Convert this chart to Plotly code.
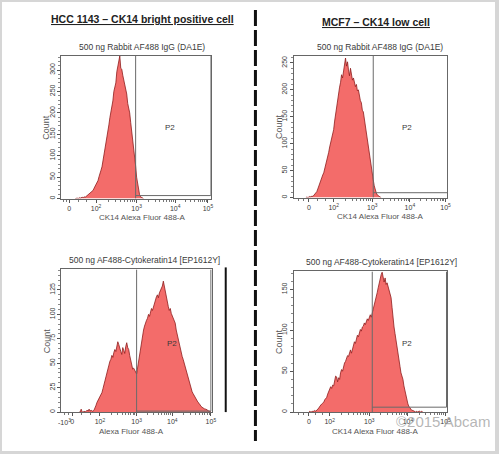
import math
import plotly.graph_objects as go

W, H = 502, 454

# ---------------- data ----------------
# display channel (biexponential display position) of first bin, then counts per channel
p1_start = 14
p1_counts = [0, 1, 1, 0, 2, 1, 2, 3, 2, 4, 3, 5, 6, 8, 9, 12, 13, 17, 19, 24, 28, 31, 38, 42, 51, 57,
             66, 74, 88, 96, 108, 131, 146, 155, 172, 189, 200, 210, 228, 250, 262, 270, 296, 312, 322,
             333, 304, 302, 288, 276, 266, 260, 244, 222, 212, 200, 178, 160, 142, 120, 98, 76, 50, 32,
             18, 9, 4, 2, 1, 0]

p2_start = 12
p2_counts = [0, 1, 0, 1, 2, 1, 3, 2, 4, 6, 8, 11, 16, 22, 28, 31, 38, 42, 46, 53, 58, 65, 76, 84, 94,
             103, 112, 118, 126, 142, 156, 169, 182, 196, 205, 214, 228, 222, 237, 248, 259, 244, 252,
             237, 226, 240, 231, 218, 222, 213, 206, 210, 198, 200, 188, 180, 176, 162, 159, 146, 134,
             120, 106, 92, 76, 64, 52, 41, 33, 22, 14, 9, 5, 3, 2, 1, 0]

p3_start = 18
p3_counts = [0, 0, 3, 0, 0, 1, 0, 1, 2, 1, 3, 1, 2, 1, 1, 2, 4, 7, 10, 12, 14, 16, 17, 20, 24, 27, 32,
             36, 41, 44, 48, 52, 54, 58, 56, 61, 64, 62, 67, 72, 69, 64, 62, 59, 66, 63, 60, 67, 71, 66,
             64, 58, 52, 47, 44, 45, 42, 41, 39, 46, 52, 58, 64, 72, 78, 84, 88, 92, 94, 96, 100, 98, 102,
             106, 104, 108, 112, 115, 118, 120, 117, 122, 124, 127, 129, 134, 128, 122, 118, 112, 108,
             104, 106, 101, 98, 95, 93, 91, 84, 79, 74, 70, 66, 61, 57, 54, 50, 47, 43, 38, 34, 30, 26,
             23, 21, 19, 17, 16, 14, 12, 10, 9, 7, 6, 5, 4, 4, 3, 3, 2, 2, 1, 1, 0]

p4_start = 15
p4_counts = [0, 1, 0, 1, 1, 1, 2, 1, 2, 4, 5, 7, 9, 10, 11, 12, 15, 17, 18, 22, 26, 28, 31, 29, 33, 32,
             38, 44, 43, 37, 42, 40, 48, 52, 50, 56, 60, 62, 65, 69, 68, 73, 76, 72, 78, 80, 86, 84, 89,
             94, 92, 98, 101, 99, 104, 105, 109, 107, 110, 114, 112, 117, 119, 116, 121, 123, 128, 133,
             138, 146, 152, 159, 165, 168, 171, 162, 159, 164, 156, 158, 154, 150, 146, 140, 128, 113,
             104, 96, 89, 80, 72, 65, 56, 48, 44, 40, 32, 26, 20, 14, 10, 7, 5, 3, 2, 2, 1, 1, 0, 1, 0,
             1, 1, 0, 1, 0]

# x tick positions (display channel) and labels
p1_xtick_vals = [8, 35, 76, 115, 148]
p1_xtick_text = ["0", "10<sup>2</sup>", "10<sup>3</sup>", "10<sup>4</sup>", "10<sup>5</sup>"]
p1_xmin_label, p1_xmin_pos = "-25", -9

p2_xtick_vals = [15, 40, 79, 117, 153]
p2_xtick_text = ["0", "10<sup>2</sup>", "10<sup>3</sup>", "10<sup>4</sup>", "10<sup>5</sup>"]
p2_xmin_label, p2_xmin_pos = "-93", -2

p3_xtick_vals = [11, 39, 76, 112, 151]
p3_xtick_text = ["0", "10<sup>2</sup>", "10<sup>3</sup>", "10<sup>4</sup>", "10<sup>5</sup>"]
p3_xmin_label, p3_xmin_pos = "-10<sup>3</sup>", 3

p4_xtick_vals = [15, 36, 76, 115, 153]
p4_xtick_text = ["0", "10<sup>2</sup>", "10<sup>3</sup>", "10<sup>4</sup>", "10<sup>5</sup>"]
p4_xmin_label, p4_xmin_pos = "-52", -7

# y axis maxima and tick steps
p1_ymax, p1_ystep = 333, 50
p2_ymax, p2_ystep = 263, 50
p3_ymax, p3_ystep = 146, 25
p4_ymax, p4_ystep = 172, 50

# P2 gates: [low channel, high channel, bottom count]
p1_gate = [75, 151, 7]
p2_gate = [80, 155, 9]
p3_gate = [76, 151, 1]
p4_gate = [79, 154, 6]

# P2 label positions (channel, count)
p1_p2lab = [110, 165]
p2_p2lab = [114, 130]
p3_p2lab = [112, 70]
p4_p2lab = [114, 84]

titles = ["HCC 1143 \u2013 CK14 bright positive cell", "MCF7 \u2013 CK14 low cell"]
subtitles = ["500 ng Rabbit AF488 IgG (DA1E)", "500 ng Rabbit AF488 IgG (DA1E)",
             "500 ng AF488-Cytokeratin14 [EP1612Y]", "500 ng AF488-Cytokeratin14 [EP1612Y]"]
xtitles = ["CK14 Alexa Fluor 488-A", "CK14 Alexa Fluor 488-A",
           "Alexa Fluor 488-A", "CK14 Alexa Fluor 488-A"]

# ---------------- layout geometry (pixels) ----------------
# l/r/t/b: plot box; sx: subtitle centre; tx: x-title centre
boxes = [
    dict(l=62, r=213, t=56, b=199, sx=143, tx=143),
    dict(l=297, r=452, t=56, b=198, sx=384, tx=384),
    dict(l=62, r=214, t=270, b=413, sx=146, tx=133),
    dict(l=297, r=452, t=272, b=413, sx=385, tx=379),
]

panels = [
    (p1_start, p1_counts, p1_xtick_vals, p1_xtick_text, p1_xmin_label, p1_xmin_pos, p1_ymax, p1_ystep, p1_gate, p1_p2lab),
    (p2_start, p2_counts, p2_xtick_vals, p2_xtick_text, p2_xmin_label, p2_xmin_pos, p2_ymax, p2_ystep, p2_gate, p2_p2lab),
    (p3_start, p3_counts, p3_xtick_vals, p3_xtick_text, p3_xmin_label, p3_xmin_pos, p3_ymax, p3_ystep, p3_gate, p3_p2lab),
    (p4_start, p4_counts, p4_xtick_vals, p4_xtick_text, p4_xmin_label, p4_xmin_pos, p4_ymax, p4_ystep, p4_gate, p4_p2lab),
]

FONT = "Liberation Sans Narrow, Arial, sans-serif"
TXT = "#3a3a3a"


def ann(**kw):
    d = dict(showarrow=False, xanchor="center", yanchor="middle")
    d.update(kw)
    return d


fig = go.Figure()
shapes = []
annotations = []

for i, (start, counts, xtv, xtt, xml, xmp, ymax, ystep, gate, lab) in enumerate(panels):
    bx = boxes[i]
    sfx = "" if i == 0 else str(i + 1)
    xa, ya = "x" + sfx, "y" + sfx
    width = bx["r"] - bx["l"]
    xs = [start + k for k in range(len(counts))]
    fig.add_trace(go.Scatter(
        x=xs, y=counts, mode="lines", xaxis=xa, yaxis=ya,
        line=dict(color="#8e1d1d", width=0.8), fill="tozeroy",
        fillcolor="rgba(242,100,98,0.95)", showlegend=False, hoverinfo="skip"))

    # minor ticks: log spacing between decades, even spacing near zero
    minor = []
    dec = xtv[1:]
    for a, b in zip(dec[:-1], dec[1:]):
        for m in range(2, 10):
            minor.append(a + (b - a) * math.log10(m))
    z0, d2 = xtv[0], xtv[1]
    for f in (0.33, 0.66):
        minor.append(z0 + (d2 - z0) * f)
    for f in (0.33, 0.66):
        minor.append(z0 * f)

    fig.update_layout(**{
        "xaxis" + sfx: dict(
            domain=[bx["l"] / W, bx["r"] / W], range=[0, width], anchor=ya,
            tickmode="array", tickvals=xtv, ticktext=xtt, ticks="outside", ticklen=3,
            tickwidth=1, tickcolor="#555", showgrid=False, zeroline=False,
            showline=True, mirror=True, linecolor="#666", linewidth=1,
            tickfont=dict(family=FONT, size=7, color=TXT),
            minor=dict(tickmode="array", tickvals=minor, ticks="outside", ticklen=2,
                       tickcolor="#777", showgrid=False),
        ),
        "yaxis" + sfx: dict(
            domain=[1 - bx["b"] / H, 1 - bx["t"] / H], range=[0, ymax], anchor=xa,
            tickmode="linear", tick0=0, dtick=ystep, ticks="outside", ticklen=3,
            tickwidth=1, tickcolor="#555", showgrid=False, zeroline=False,
            showline=True, mirror=True, linecolor="#666", linewidth=1, tickangle=-90,
            tickfont=dict(family=FONT, size=7, color=TXT),
            minor=dict(dtick=ystep / 5, ticks="outside", ticklen=2, tickcolor="#888"),
        ),
    })

    # gate P2
    lo, hi, gb = gate
    shapes += [
        dict(type="line", xref=xa, yref=ya, x0=lo, x1=lo, y0=0, y1=ymax, line=dict(color="#6a6a6a", width=1)),
        dict(type="line", xref=xa, yref=ya, x0=lo, x1=hi, y0=gb, y1=gb, line=dict(color="#6a6a6a", width=1)),
        dict(type="line", xref=xa, yref=ya, x0=hi, x1=hi, y0=gb, y1=ymax, line=dict(color="#6a6a6a", width=1)),
    ]
    annotations.append(ann(xref=xa, yref=ya, x=lab[0], y=lab[1], text="P2",
                           font=dict(family=FONT, size=8, color=TXT)))
    # left-most tick label (sits left of axis start)
    annotations.append(ann(xref=xa, yref=ya, x=xmp, y=0, text=xml, yanchor="top", yshift=-4,
                           font=dict(family=FONT, size=7, color=TXT)))
    # subtitle
    annotations.append(ann(xref="paper", yref="paper", x=bx["sx"] / W, y=1 - (bx["t"] - 9) / H,
                           text=subtitles[i], font=dict(family=FONT, size=8.5, color=TXT)))
    # x title
    annotations.append(ann(xref="paper", yref="paper", x=bx["tx"] / W, y=1 - (bx["b"] + 19) / H,
                           text=xtitles[i], font=dict(family=FONT, size=8, color="#555")))
    # y title
    annotations.append(ann(xref="paper", yref="paper", x=(bx["l"] - 15) / W,
                           y=1 - ((bx["t"] + bx["b"]) / 2) / H, text="Count", textangle=-90,
                           font=dict(family=FONT, size=9, color="#555")))

# column titles
annotations.append(ann(xref="paper", yref="paper", x=144 / W, y=1 - 19 / H,
                       text="<b><u>" + titles[0] + "</u></b>",
                       font=dict(family=FONT, size=10.5, color="#222")))
annotations.append(ann(xref="paper", yref="paper", x=380 / W, y=1 - 22 / H,
                       text="<b><u>" + titles[1] + "</u></b>",
                       font=dict(family=FONT, size=10.5, color="#222")))
# watermark
annotations.append(ann(xref="paper", yref="paper", x=497 / W, y=1 - 422 / H, xanchor="right",
                       text="\u00a92015 Abcam",
                       font=dict(family="Arial, sans-serif", size=15, color="rgba(150,150,150,0.7)")))

# dashed divider and frame
shapes.append(dict(type="line", xref="paper", yref="paper", x0=258 / W, x1=258 / W,
                   y0=1 - 10 / H, y1=1 - 442 / H, line=dict(color="#111", width=3, dash="16px,4px")))
shapes.append(dict(type="line", xref="paper", yref="paper", x0=228 / W, x1=228 / W,
                   y0=1 - 268 / H, y1=1 - 413 / H, line=dict(color="#111", width=2)))
shapes.append(dict(type="rect", xref="paper", yref="paper", x0=0, x1=1, y0=0, y1=1,
                   line=dict(color="#d6d6d6", width=4)))

fig.update_layout(width=W, height=H, margin=dict(l=0, r=0, t=0, b=0),
                  paper_bgcolor="white", plot_bgcolor="white",
                  shapes=shapes, annotations=annotations, showlegend=False)

fig.write_html("out.html", config={"displayModeBar": False},
               post_script="document.body.style.margin='0';document.body.style.padding='0';")
